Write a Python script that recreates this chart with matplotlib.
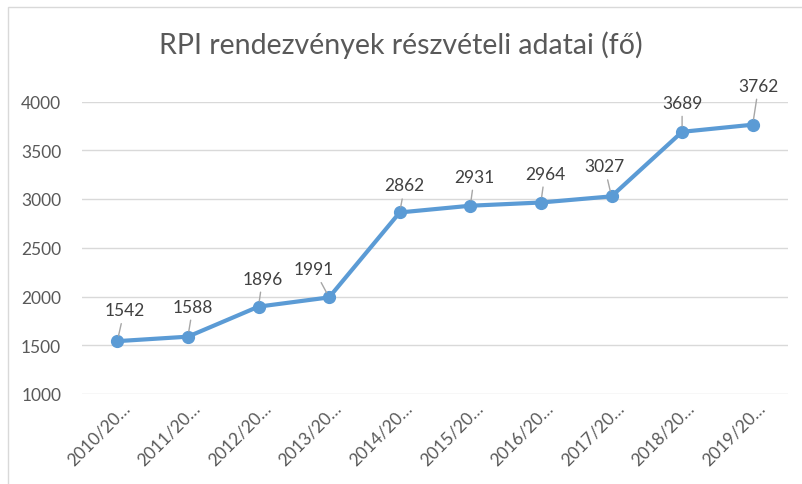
import matplotlib
matplotlib.use("Agg")
import matplotlib.pyplot as plt
from matplotlib.patches import Rectangle
import matplotlib.transforms as mtransforms

categories = ["2010/20…", "2011/20…", "2012/20…", "2013/20…", "2014/20…",
              "2015/20…", "2016/20…", "2017/20…", "2018/20…", "2019/20…"]
values = [1542, 1588, 1896, 1991, 2862, 2931, 2964, 3027, 3689, 3762]
yticks = [1000, 1500, 2000, 2500, 3000, 3500, 4000]
title = "RPI rendezvények részvételi adatai (fő)"

# label offsets in pixels (dx, dy) relative to each point
label_offsets = [(7, 31), (5, 30), (4, 28), (-15, 28), (5, 27),
                 (4, 29), (4, 29), (-7, 30), (0, 29), (6, 39)]

W, H = 802, 485
fig = plt.figure(figsize=(W / 100, H / 100), dpi=100)
plt.rcParams['font.family'] = ['Lato', 'DejaVu Sans']

# chart border
fig.patches.append(Rectangle((7.5 / W, -0.1), 1.2, (H - 7.5) / H + 0.1,
                             transform=fig.transFigure, fill=False,
                             edgecolor='#d9d9d9', linewidth=1.0))

left, right = 82 / W, 788 / W
bottom, top = 1 - 395 / H, 1 - 102.5 / H
ax = fig.add_axes([left, bottom, right - left, top - bottom])

x = list(range(len(values)))
ax.plot(x, values, color='#5B9BD5', linewidth=3.0, marker='o',
        markersize=8.5, markerfacecolor='#5B9BD5', markeredgecolor='#5B9BD5',
        solid_capstyle='round', zorder=3, clip_on=False)

ax.set_xlim(-0.5, len(values) - 0.5)
ax.set_ylim(1000, 4000)
ax.set_yticks(yticks)
ax.set_yticklabels([str(v) for v in yticks])
ax.grid(axis='y', color='#d9d9d9', linewidth=1.0)
ax.set_axisbelow(True)
for s in ax.spines.values():
    s.set_visible(False)
ax.tick_params(axis='both', length=0)
ax.tick_params(axis='y', labelsize=12.5, labelcolor='#595959', pad=15)
ax.set_xticks(x)
ax.set_xticklabels(categories, rotation=45, ha='right', va='center',
                   rotation_mode='anchor', fontsize=12.5, color='#595959')
offset = mtransforms.ScaledTranslation(10 / 100, -6 / 100, fig.dpi_scale_trans)
for lbl in ax.get_xticklabels():
    lbl.set_transform(lbl.get_transform() + offset)

for xi, v, (dx, dy) in zip(x, values, label_offsets):
    ax.annotate(str(v), xy=(xi, v), xytext=(dx, dy), textcoords='offset pixels',
                ha='center', va='center', fontsize=12.5, color='#404040',
                annotation_clip=False,
                arrowprops=dict(arrowstyle='-', color='#a6a6a6', linewidth=1.0,
                                shrinkA=2, shrinkB=4))

fig.text(0.5, 1 - 45 / H, title, ha='center', va='center', fontsize=20.5,
         color='#595959')

fig.savefig("out.png", dpi=100)
